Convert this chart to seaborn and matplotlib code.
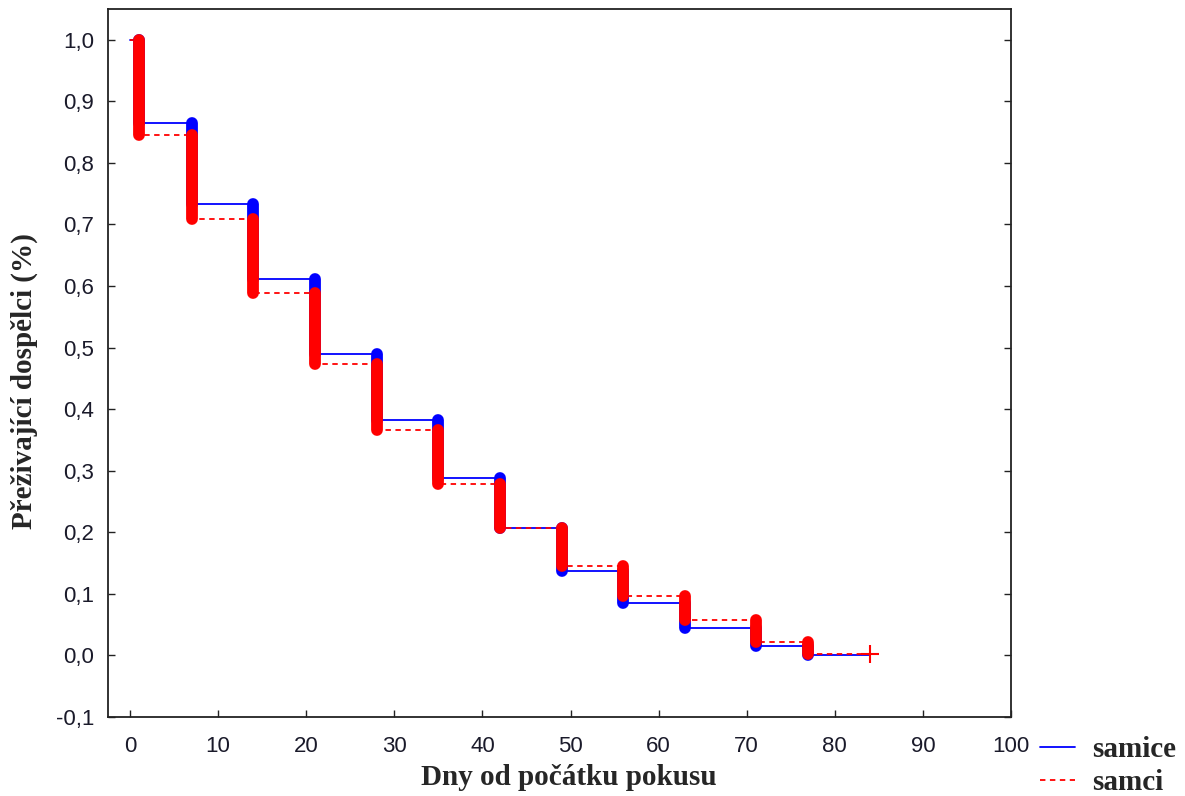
import numpy as np
import pandas as pd
import matplotlib
matplotlib.use("Agg")
import matplotlib.pyplot as plt
from matplotlib.lines import Line2D
from matplotlib.ticker import FuncFormatter
import seaborn as sns

# survival data (Kaplan-Meier style steps)
days = [0, 1, 7, 14, 21, 28, 35, 42, 49, 56, 63, 71, 77, 84]
samice = [1.0, 0.865, 0.733, 0.611, 0.489, 0.382, 0.288, 0.207, 0.137, 0.085, 0.044, 0.015, 0.0, 0.0]
samci = [1.0, 0.846, 0.709, 0.589, 0.473, 0.366, 0.279, 0.207, 0.145, 0.097, 0.057, 0.022, 0.003, 0.003]

groups = ["samice", "samci"]
colors = {"samice": "#0000ff", "samci": "#ff0000"}

df = pd.concat([
    pd.DataFrame({"Den": days, "Preziti": samice, "Pohlavi": "samice"}),
    pd.DataFrame({"Den": days, "Preziti": samci, "Pohlavi": "samci"}),
], ignore_index=True)

sns.set_theme(style="white")
serif = ["Liberation Serif", "DejaVu Serif"]
plt.rcParams["font.family"] = ["Liberation Sans", "DejaVu Sans"]

fig = plt.figure(figsize=(11.85, 7.96), dpi=100)
ax = fig.add_axes([0.0911, 0.0992, 0.7621, 0.8895])

# step lines
sns.lineplot(data=df, x="Den", y="Preziti", hue="Pohlavi", style="Pohlavi",
             palette=colors, dashes={"samice": "", "samci": (3, 2.5)},
             drawstyle="steps-post", estimator=None, lw=1.3, legend=False, ax=ax)
for ln in ax.get_lines():
    ln.set_zorder(2)

# thick drop bars (blue below, red on top)
for g, vals in [("samice", samice), ("samci", samci)]:
    for i in range(1, len(days) - 1):
        ax.plot([days[i], days[i]], [vals[i - 1], vals[i]], color=colors[g],
                lw=8.5, solid_capstyle="round", zorder=4 if g == "samice" else 5)

# censored mark at the end
ax.plot([days[-1]], [samci[-1]], marker="+", ms=13, mew=1.5, color="#ff0000", zorder=6)

ax.set_xlim(-2.5, 100)
ax.set_ylim(-0.1, 1.05)
ax.set_xticks(np.arange(0, 101, 10))
ax.set_yticks(np.arange(-0.1, 1.01, 0.1))
ax.yaxis.set_major_formatter(FuncFormatter(lambda v, p: f"{v:.1f}".replace(".", ",").replace("-0,0", "0,0")))

ax.tick_params(axis="both", direction="in", length=5, width=1, labelsize=16,
               colors="#222222", labelcolor="#1a1a2a")
ax.tick_params(axis="y", right=True, left=True, pad=10)
ax.tick_params(axis="x", bottom=True, top=False, pad=14)
for s in ax.spines.values():
    s.set_color("#222222")
    s.set_linewidth(1.3)

ax.set_xlabel("Dny od počátku pokusu", fontsize=21, fontweight="bold", family=serif)
ax.set_ylabel("Přeživající dospělci (%)", fontsize=21, fontweight="bold", family=serif)
ax.xaxis.set_label_coords(0.5105, -0.066)
ax.yaxis.set_label_coords(-0.0775, 0.4746)

handles = [Line2D([], [], color=colors["samice"], lw=1.3),
           Line2D([], [], color=colors["samci"], lw=1.3, dashes=(3, 2.5))]
fig.legend(handles, groups, loc="lower left", bbox_to_anchor=(0.8776, 0.0),
           frameon=False, borderpad=0, borderaxespad=0, handlelength=1.2,
           handletextpad=0.6, labelspacing=0.2,
           prop={"family": serif, "weight": "bold", "size": 21})

plt.savefig("out.png", dpi=100)
plt.close()
